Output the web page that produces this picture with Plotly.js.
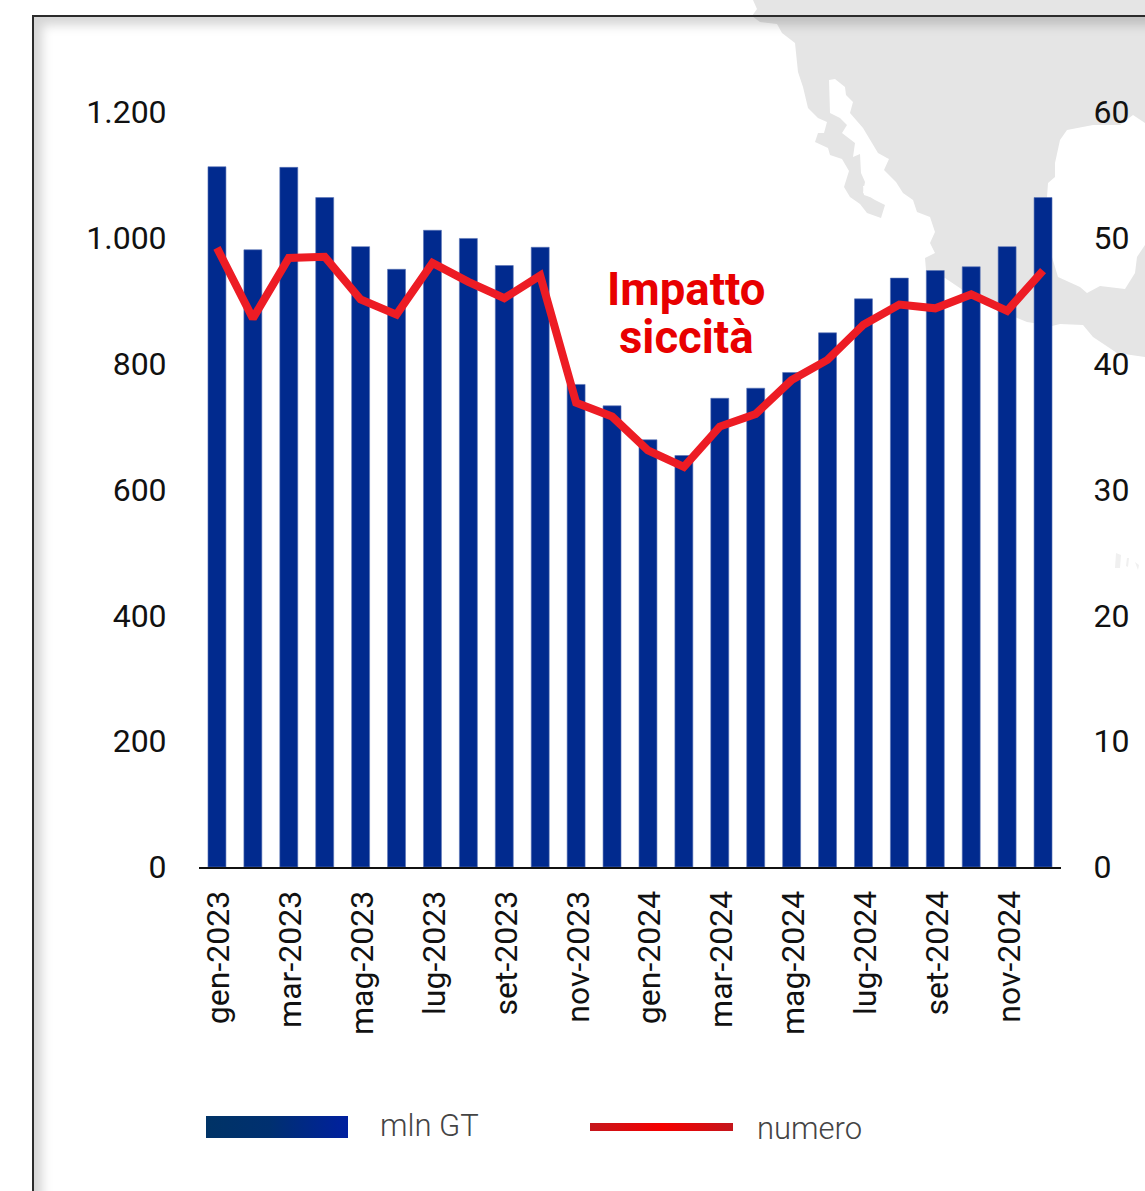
<!DOCTYPE html>
<html><head><meta charset="utf-8">
<script src="https://cdn.plot.ly/plotly-3.0.0.min.js"></script>
<style>
html,body{margin:0;padding:0;width:1145px;height:1191px;overflow:hidden;background:#fff;font-family:Roboto,sans-serif}
#map{position:absolute;left:0;top:0}
#frame{position:absolute;left:32px;top:15px;width:1300px;height:1400px;border:2.5px solid #2b2b2b;box-sizing:border-box;box-shadow:inset 8px 8px 11px rgba(0,0,0,.17)}
#chart{position:absolute;left:0;top:0;width:1145px;height:1191px}
.sw{position:absolute}
#sw1{left:206px;top:1116px;width:142px;height:22px;background:linear-gradient(90deg,#003366 0%,#003070 45%,#00209f 100%)}
#sw2{left:590px;top:1123px;width:143px;height:8px;background:linear-gradient(90deg,#c4161c 0%,#f50000 50%,#c4161c 100%)}
</style></head><body>
<svg id="map" width="1145" height="1191" viewBox="0 0 1145 1191">
<path fill="#e5e5e5" d="M753 0 L757 9 L752 16 L760 22 L777 24 L782 33 L795 43 L798 72 L803 87 L808 108 L818 118 L827 122 L824 133 L818 133 L815 142 L828 148 L830 155 L842 159 L849 171 L844 187 L850 197 L860 204 L867 213 L881 218 L885 205 L875 200 L870 197 L863 193 L865 182 L861 173 L860 154 L853 157 L855 143 L842 133 L847 125 L840 118 L830 113 L829 80 L835 79 L845 87 L846 95 L853 102 L850 113 L863 128 L872 143 L878 153 L887 158 L889 159 L884 170 L896 182 L903 193 L913 200 L917 212 L930 217 L935 232 L930 243 L935 253 L925 258 L926 270 L945 278 L985 305 L1027 322 L1052 326 L1060 324 L1083 325 L1093 337 L1117 353 L1145 357 L1145 245 L1137 257 L1135 273 L1125 289 L1100 286 L1087 293 L1080 287 L1058 277 L1052 257 L1047 197 L1048 183 L1055 177 L1055 163 L1060 140 L1067 130 L1093 125 L1120 125 L1133 115 L1145 123 L1145 0 Z"/>
<path fill="#fff" d="M863 186 L870 185 L870 197 L864 195 Z"/>
<path fill="#f0f0f0" d="M1116 553 L1121 555 L1120 568 L1115 568 Z M1127 558 L1129 558 L1128 567 L1126 566 Z M1135 562 L1139 565 L1138 570 Z"/>
</svg>
<div id="frame"></div>
<div id="chart"></div>
<div class="sw" id="sw1"></div>
<div class="sw" id="sw2"></div>
<script>
const months = ["gen-2023","feb-2023","mar-2023","apr-2023","mag-2023","giu-2023","lug-2023","ago-2023","set-2023","ott-2023","nov-2023","dic-2023","gen-2024","feb-2024","mar-2024","apr-2024","mag-2024","giu-2024","lug-2024","ago-2024","set-2024","ott-2024","nov-2024","dic-2024"];
const mlnGT = [1113,981,1112,1064,986,950,1012,999,956,985,767,733,679,654,745,761,786,849,903,936,948,954,986,1064];
const numero = [49.2,43.6,48.4,48.5,45.1,43.9,48.0,46.5,45.2,47.0,36.9,35.8,33.1,31.8,35.0,36.0,38.7,40.3,43.1,44.7,44.4,45.5,44.2,47.4];
const leftTicks = [0,200,400,600,800,1000,1200];
const rightTicks = [0,10,20,30,40,50,60];

const W = 1145, H = 1191, L = 199, R = 1061, T = 112, B = 867;
const px = x => (x - L) / (R - L);
const py = y => (B - y) / (B - T);
const tickFont = {family:"Roboto, sans-serif", size:32, color:"#111"};
function note(text, x, y, font){
  return {text, x:px(x), y:py(y), xref:"paper", yref:"paper", showarrow:false, xanchor:"center", yanchor:"middle", font};
}
const noteFont = {family:"Roboto, sans-serif", size:45.5, color:"#e80000", weight:700};
const legFont = {family:"Roboto, sans-serif", size:31, color:"#444", weight:300};

Plotly.newPlot("chart", [
  {type:"bar", name:"mln GT", x:months, y:mlnGT, marker:{color:"#012a8e", line:{color:"#5a74b5", width:0.6}}, yaxis:"y"},
  {type:"scatter", mode:"lines", name:"numero", x:months, y:numero, yaxis:"y2", line:{color:"#ed1c24", width:8}}
], {
  width:W, height:H, showlegend:false, bargap:0.5, separators:",.",
  paper_bgcolor:"rgba(0,0,0,0)", plot_bgcolor:"rgba(0,0,0,0)",
  margin:{l:L, r:W-R, t:T, b:H-B, pad:0},
  xaxis:{type:"category", categoryorder:"array", categoryarray:months, range:[-0.5,23.5], tickmode:"array", tickvals:months.filter((m,i)=>i%2===0), tickangle:-90, ticklabelshift:2,
    tickfont:{family:"Roboto, sans-serif", size:32, color:"#111"}, showline:true, linecolor:"#111", linewidth:2, ticks:"outside", ticklen:9, tickcolor:"rgba(0,0,0,0)", showgrid:false, automargin:false},
  yaxis:{range:[0,1200], tickmode:"array", tickvals:leftTicks, tickformat:",d", tickfont:tickFont, showgrid:false, zeroline:false, showline:false, ticks:"outside", ticklen:25, tickcolor:"rgba(0,0,0,0)", automargin:false},
  yaxis2:{range:[0,60], overlaying:"y", side:"right", tickmode:"array", tickvals:rightTicks, tickfont:tickFont, showgrid:false, zeroline:false, showline:false, ticks:"outside", ticklen:25, tickcolor:"rgba(0,0,0,0)", automargin:false},
  annotations:[
    note("Impatto", 686, 289, noteFont),
    note("siccità", 686, 337, noteFont),
    note("mln GT", 429, 1125, legFont),
    note("numero", 809, 1128, legFont)
  ]
}, {displayModeBar:false, staticPlot:true});
</script>
</body></html>
